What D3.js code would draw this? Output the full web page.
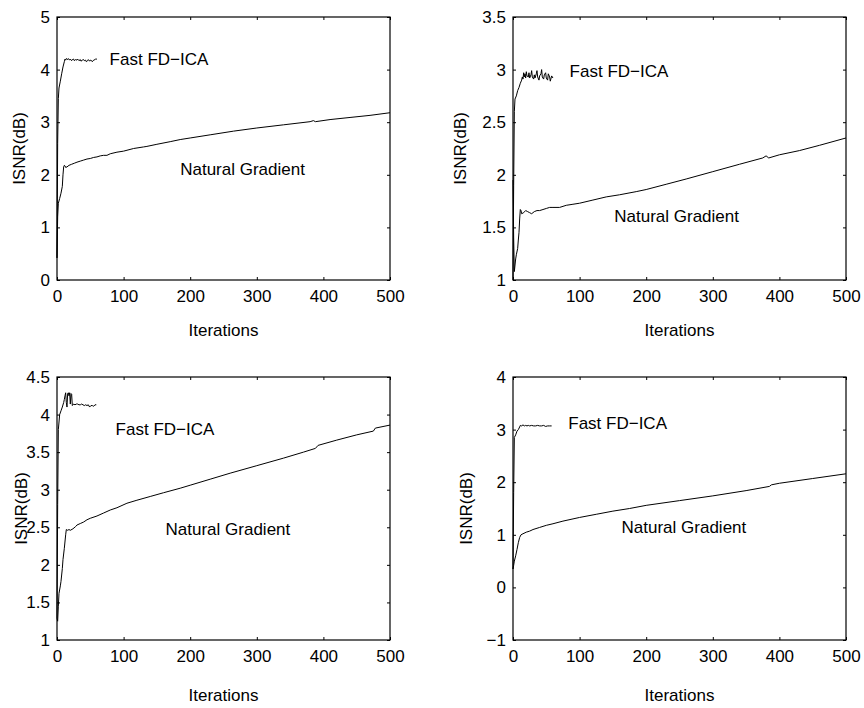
<!doctype html>
<html>
<head>
<meta charset="utf-8">
<script src="https://cdnjs.cloudflare.com/ajax/libs/d3/7.8.5/d3.min.js"></script>
<style>
  body { margin: 0; background: #fff; }
  svg { display: block; font-family: "Liberation Sans", Arial, Helvetica, sans-serif; }
  .axis text { font-size: 17px; fill: #000; }
  .axis line { stroke: #000; }
  .lbl { font-size: 17px; fill: #000; }
</style>
</head>
<body>
<svg id="chart" width="864" height="708"></svg>
<script>
// iterations on the x axis, ISNR (dB) on the y axis, [iteration, value] pairs
var xTicks = [0, 100, 200, 300, 400, 500];

var fast1 = [[0,0.42],[1,2.6],[2,3.45],[3,3.65],[5,3.78],[7,3.92],[9,4.05],[11,4.15],[12,4.2],[13,4.18],[14,4.21],[16,4.19],[17,4.21],[19,4.18],[20,4.2],[22,4.17],[23,4.19],[25,4.2],[26,4.17],[28,4.19],[30,4.18],[31,4.2],[33,4.17],[35,4.19],[36,4.16],[38,4.18],[40,4.19],[41,4.17],[43,4.18],[44,4.15],[46,4.17],[47,4.19],[49,4.16],[50,4.18],[52,4.17],[53,4.15],[55,4.18],[57,4.19],[58,4.2],[60,4.2]];
var natural1 = [[0,0.42],[1,1.2],[2,1.46],[4,1.55],[6,1.65],[8,1.78],[9,2.0],[10,2.15],[11,2.18],[12,2.17],[13,2.14],[15,2.15],[18,2.18],[22,2.2],[26,2.22],[30,2.24],[35,2.26],[40,2.28],[45,2.3],[50,2.31],[55,2.33],[60,2.34],[65,2.36],[70,2.37],[75,2.37],[80,2.4],[90,2.43],[100,2.45],[115,2.5],[130,2.53],[135,2.54],[150,2.58],[170,2.63],[185,2.67],[200,2.7],[230,2.76],[265,2.83],[300,2.89],[340,2.95],[380,3.01],[385,3.03],[388,3.01],[410,3.05],[440,3.09],[470,3.13],[500,3.18]];

var fast2 = [[0,1.0],[1,1.9],[2,2.6],[3,2.72],[5,2.75],[7,2.8],[9,2.83],[11,2.87],[13,2.9],[14,2.93],[15,2.91],[16,2.97],[17,2.93],[18,2.96],[19,2.92],[20,2.98],[21,2.94],[23,2.93],[24,2.97],[25,2.92],[27,2.95],[28,2.99],[29,2.93],[31,2.91],[32,2.95],[33,2.92],[35,2.96],[36,2.99],[37,2.93],[39,2.9],[40,2.94],[42,2.96],[43,3.0],[44,2.93],[46,2.91],[47,2.95],[49,2.97],[50,2.92],[52,2.9],[53,2.96],[55,2.93],[56,2.89],[58,2.94],[60,2.92]];
var natural2 = [[0,1.95],[1,1.4],[2,1.08],[4,1.2],[5,1.24],[7,1.3],[8,1.38],[9,1.45],[10,1.58],[11,1.67],[12,1.66],[13,1.63],[16,1.64],[19,1.66],[22,1.65],[25,1.64],[28,1.63],[32,1.65],[36,1.66],[40,1.66],[45,1.67],[50,1.68],[55,1.69],[60,1.69],[70,1.69],[80,1.71],[90,1.72],[100,1.73],[120,1.76],[140,1.79],[160,1.81],[185,1.84],[200,1.86],[230,1.91],[260,1.96],[300,2.03],[340,2.1],[375,2.16],[380,2.18],[384,2.16],[400,2.19],[430,2.23],[460,2.28],[500,2.35]];

var fast3 = [[0,1.29],[1,2.8],[2,3.8],[4,4.0],[6,4.05],[8,4.1],[10,4.16],[11,4.2],[12,4.25],[13,4.29],[14,4.16],[15,4.1],[16,4.28],[17,4.29],[18,4.25],[19,4.29],[20,4.14],[21,4.28],[22,4.27],[23,4.12],[25,4.14],[27,4.13],[29,4.14],[31,4.14],[33,4.13],[35,4.13],[37,4.14],[39,4.13],[41,4.12],[43,4.13],[45,4.12],[47,4.13],[49,4.1],[51,4.12],[53,4.12],[55,4.11],[57,4.13],[59,4.13]];
var natural3 = [[0,1.29],[1,1.25],[2,1.45],[3,1.62],[5,1.72],[6,1.78],[8,1.95],[9,2.07],[11,2.22],[13,2.4],[14,2.47],[16,2.46],[18,2.47],[20,2.46],[24,2.48],[28,2.51],[30,2.53],[35,2.55],[40,2.57],[45,2.6],[50,2.62],[60,2.65],[70,2.69],[80,2.73],[90,2.76],[105,2.82],[120,2.86],[140,2.91],[160,2.96],[185,3.02],[200,3.06],[230,3.14],[260,3.22],[300,3.32],[340,3.42],[370,3.5],[388,3.55],[392,3.59],[420,3.66],[450,3.73],[475,3.78],[478,3.82],[500,3.86]];

var fast4 = [[0,0.35],[1,1.8],[2,2.85],[4,2.9],[6,2.97],[8,3.0],[10,3.05],[11,3.08],[13,3.07],[15,3.09],[17,3.07],[19,3.08],[21,3.07],[23,3.08],[25,3.07],[28,3.08],[31,3.07],[34,3.07],[37,3.08],[40,3.07],[43,3.07],[46,3.08],[49,3.06],[52,3.07],[55,3.07],[58,3.07]];
var natural4 = [[0,0.35],[1,0.42],[2,0.5],[4,0.6],[6,0.72],[8,0.85],[10,0.95],[12,1.0],[15,1.02],[20,1.05],[25,1.07],[30,1.1],[40,1.14],[50,1.18],[60,1.21],[75,1.26],[100,1.33],[125,1.39],[150,1.45],[175,1.5],[200,1.56],[250,1.65],[300,1.74],[350,1.84],[385,1.92],[388,1.95],[400,1.98],[450,2.07],[500,2.16]];

var yTicks1 = [0, 1, 2, 3, 4, 5];
var yTicks2 = [1, 1.5, 2, 2.5, 3, 3.5];
var yTicks3 = [1, 1.5, 2, 2.5, 3, 3.5, 4, 4.5];
var yTicks4 = [-1, 0, 1, 2, 3, 4];

// text positions in data units: [iteration, value]
var fastPos = [[79, 4.2], [85, 2.99], [88, 3.81], [83, 3.13]];
var naturalPos = [[185, 2.1], [152, 1.61], [163, 2.48], [163, 1.15]];

var panels = [
  {fast: fast1, natural: natural1, yTicks: yTicks1, left: 57, top: 17, ylab: 25},
  {fast: fast2, natural: natural2, yTicks: yTicks2, left: 513, top: 17, ylab: 466},
  {fast: fast3, natural: natural3, yTicks: yTicks3, left: 57, top: 377, ylab: 27},
  {fast: fast4, natural: natural4, yTicks: yTicks4, left: 513, top: 377, ylab: 472}
];

var W = 333, H = 263;
var svg = d3.select("#chart");

panels.forEach(function(p, i) {
  var g = svg.append("g").attr("transform", "translate(" + p.left + "," + p.top + ")");
  var yDom = d3.extent(p.yTicks);
  var x = d3.scaleLinear().domain([0, 500]).range([0, W]);
  var y = d3.scaleLinear().domain(yDom).range([H, 0]);
  var fmt = function(d) { return d3.format("")(d).replace("-", "\u2212"); };

  g.append("g").attr("class", "axis").attr("transform", "translate(0," + H + ")")
    .call(d3.axisBottom(x).tickValues(xTicks).tickSizeInner(-3).tickSizeOuter(0).tickPadding(10));
  g.append("g").attr("class", "axis")
    .call(d3.axisTop(x).tickValues(xTicks).tickSizeInner(-3).tickSizeOuter(0).tickFormat(""));
  g.append("g").attr("class", "axis")
    .call(d3.axisLeft(y).tickValues(p.yTicks).tickSizeInner(-3).tickSizeOuter(0).tickPadding(7).tickFormat(fmt));
  g.append("g").attr("class", "axis").attr("transform", "translate(" + W + ",0)")
    .call(d3.axisRight(y).tickValues(p.yTicks).tickSizeInner(-3).tickSizeOuter(0).tickFormat(""));
  g.selectAll(".axis .domain").remove();
  g.selectAll(".axis text").attr("fill", "#000");

  var line = d3.line().x(function(d) { return x(d[0]); }).y(function(d) { return y(d[1]); });
  g.append("path").datum(p.natural).attr("d", line)
    .attr("fill", "none").attr("stroke", "#000").attr("stroke-width", 1);
  g.append("path").datum(p.fast).attr("d", line)
    .attr("fill", "none").attr("stroke", "#000").attr("stroke-width", 1);

  g.append("rect").attr("x", 0).attr("y", 0).attr("width", W).attr("height", H)
    .attr("fill", "none").attr("stroke", "#000").attr("stroke-width", 1.2);

  g.append("text").attr("class", "lbl")
    .attr("x", x(fastPos[i][0])).attr("y", y(fastPos[i][1])).attr("dy", "0.35em")
    .text("Fast FD\u2212ICA");
  g.append("text").attr("class", "lbl")
    .attr("x", x(naturalPos[i][0])).attr("y", y(naturalPos[i][1])).attr("dy", "0.35em")
    .text("Natural Gradient");

  g.append("text").attr("class", "lbl").attr("text-anchor", "middle")
    .attr("x", W / 2).attr("y", i < 2 ? 319 : 324)
    .text("Iterations");
  svg.append("text").attr("class", "lbl").attr("text-anchor", "middle")
    .attr("transform", "translate(" + p.ylab + "," + (p.top + H / 2) + ") rotate(-90)")
    .text("ISNR(dB)");
});
</script>
</body>
</html>
